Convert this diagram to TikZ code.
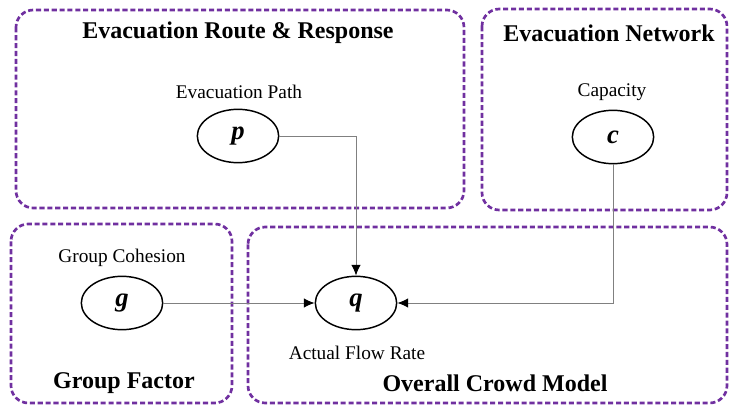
\documentclass[tikz,border=0pt]{standalone}
\usepackage{fontspec}
\setmainfont{Liberation Serif}
\usetikzlibrary{shapes.geometric,arrows.meta}
\definecolor{grpurple}{RGB}{112,48,160}
\tikzset{
  group/.style={draw=grpurple,line width=2pt,dash pattern=on 3.8pt off 2.1pt,rounded corners=13pt},
  title/.style={font=\fontsize{18}{20}\selectfont\bfseries},
  var/.style={draw,ellipse,line width=1.1pt,minimum width=61pt,minimum height=40pt,
    font=\fontsize{20}{22}\selectfont\bfseries\itshape},
  lbl/.style={font=\fontsize{14.5}{16}\selectfont},
  link/.style={draw=gray,line width=0.75pt,-{Latex[length=8pt,width=7pt,color=black]}}
}
\begin{document}
\begin{tikzpicture}[x=0.75pt,y=-0.75pt]
    \useasboundingbox (0,0) rectangle (729,407);
    % groups
    \draw[group] (16,10) rectangle (464,208);
    \draw[group] (482,9) rectangle (727,210);
    \draw[group] (11,224) rectangle (232,403);
    \draw[group] (248,227) rectangle (727,403);
    \node[title] (tRoute) at (238,33) {Evacuation Route \& Response};
    \node[title] (tNet) at (609,33) {Evacuation Network};
    \node[title] (tGroup) at (124,383) {Group Factor};
    \node[title] (tCrowd) at (495,383) {Overall Crowd Model};
    % variables
    \node[var] (p) at (238,136) {p};
    \node[var] (c) at (613,137) {c};
    \node[var] (g) at (122,303) {g};
    \node[var] (q) at (356,303) {q};
    \node[lbl] (pLbl) at (239,92) {Evacuation Path};
    \node[lbl] (cLbl) at (612,92) {Capacity};
    \node[lbl] (gLbl) at (122,258) {Group Cohesion};
    \node[lbl] (qLbl) at (357,353) {Actual Flow Rate};
    % links
    \draw[link] (p.east) -| (q.north);
    \draw[link] (c.south) |- (q.east);
    \draw[link] (g.east) -- (q.west);
\end{tikzpicture}
\end{document}
